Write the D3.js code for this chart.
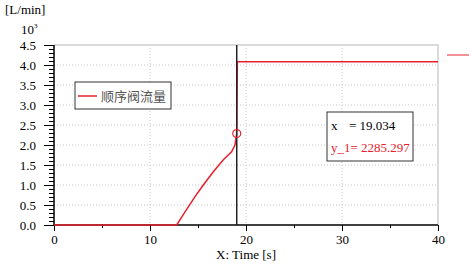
<!DOCTYPE html>
<html>
<head>
<meta charset="utf-8">
<script src="https://cdn.jsdelivr.net/npm/d3@7"></script>
<style>
  body { margin: 0; background: #fff; }
  svg text { font-family: "Liberation Serif", "DejaVu Serif", serif; }
</style>
</head>
<body>
<div id="chart"></div>
<script>
// data (x in s, y in 10^3 L/min)
var timeVals = [0, 12.78, 13.65, 14.69, 15.55, 16.6, 17.64, 18.5, 18.85, 19.03, 19.1, 40]
var flowVals = [0, 0, 0.33, 0.71, 1.0, 1.33, 1.63, 1.83, 2.0, 2.285, 4.08, 4.08]
var xTicks = [0, 10, 20, 30, 40]
var yTicks = [0, 0.5, 1, 1.5, 2, 2.5, 3, 3.5, 4, 4.5]
var seriesName = "顺序阀流量"
var cursorX = 19.034
var cursorY = 2285.297

var W = 472, H = 264
var margin = { top: 45, right: 34, bottom: 39, left: 54 },
    width = W - margin.left - margin.right,
    height = H - margin.top - margin.bottom

var red = "#e8202c"

var svg = d3.select("#chart").append("svg")
    .attr("width", W).attr("height", H)

var g = svg.append("g")
    .attr("transform", "translate(" + margin.left + "," + margin.top + ")")

var x = d3.scaleLinear().domain([0, 40]).range([0, width])
var y = d3.scaleLinear().domain([0, 4.5]).range([height, 0])

// grid (dotted)
g.append("g").selectAll("line")
    .data(xTicks.filter(d => d > 0 && d < 40))
    .enter().append("line")
    .attr("x1", d => x(d)).attr("x2", d => x(d))
    .attr("y1", 0).attr("y2", height)
    .attr("stroke", "#c8c8c8").attr("stroke-dasharray", "1,2")
g.append("g").selectAll("line")
    .data(yTicks.filter(d => d > 0 && d < 4.5))
    .enter().append("line")
    .attr("x1", 0).attr("x2", width)
    .attr("y1", d => y(d)).attr("y2", d => y(d))
    .attr("stroke", "#c8c8c8").attr("stroke-dasharray", "1,2")

// top / right frame
g.append("path")
    .attr("d", "M0,0H" + width + "V" + height)
    .attr("fill", "none").attr("stroke", "#d0d0d0").attr("stroke-width", 1.5)

// minor ticks
var yMinor = d3.range(0, 4.51, 0.1)
var xMinor = [5, 15, 25, 35]
g.append("g").call(d3.axisLeft(y).tickValues(yMinor).tickSize(5).tickFormat(""))
    .call(a => a.select(".domain").remove())
    .selectAll("line").attr("stroke", "#000")
g.append("g").attr("transform", "translate(0," + height + ")")
    .call(d3.axisBottom(x).tickValues(xMinor).tickSize(3).tickFormat(""))
    .call(a => a.select(".domain").remove())
    .selectAll("line").attr("stroke", "#000")

// major axes
var yAxis = g.append("g")
    .call(d3.axisLeft(y).tickValues(yTicks).tickSize(10).tickPadding(8).tickFormat(d3.format(".1f")))
yAxis.select(".domain").attr("stroke", "#000").attr("stroke-width", 1.5).attr("d", "M0,0V" + height)
yAxis.selectAll("text").attr("font-size", 13).attr("fill", "#000")
    .attr("font-family", "Liberation Serif")

var xAxis = g.append("g").attr("transform", "translate(0," + height + ")")
    .call(d3.axisBottom(x).tickValues(xTicks).tickSize(6).tickPadding(4))
xAxis.select(".domain").attr("stroke", "#000").attr("stroke-width", 1.5).attr("d", "M0,0H" + width)
xAxis.selectAll("text").attr("font-size", 13).attr("fill", "#000")
    .attr("font-family", "Liberation Serif")

// series
var line = d3.line().x((d, i) => x(timeVals[i])).y((d, i) => y(flowVals[i]))
g.append("path")
    .datum(flowVals)
    .attr("d", line)
    .attr("fill", "none").attr("stroke", red).attr("stroke-width", 1.5)

// cursor
g.append("line")
    .attr("x1", x(cursorX)).attr("x2", x(cursorX))
    .attr("y1", 0).attr("y2", height)
    .attr("stroke", "#222").attr("stroke-width", 1.5)
g.append("circle")
    .attr("cx", x(cursorX)).attr("cy", y(cursorY / 1000))
    .attr("r", 4)
    .attr("fill", "none").attr("stroke", red).attr("stroke-width", 1.2)

// cursor readout box
var rb = g.append("g").attr("transform", "translate(273,67)")
rb.append("rect").attr("x", 0).attr("y", 0).attr("width", 86).attr("height", 49)
    .attr("fill", "#fff").attr("stroke", "#333").attr("stroke-width", 1)
rb.append("text").attr("x", 4).attr("y", 18).attr("font-size", 13).attr("fill", "#000")
    .text("x")
rb.append("text").attr("x", 22).attr("y", 18).attr("font-size", 13).attr("fill", "#000")
    .text("= " + cursorX.toFixed(3))
rb.append("text").attr("x", 4).attr("y", 40).attr("font-size", 13).attr("fill", red)
    .text("y_1= " + cursorY.toFixed(3))

// legend
var lg = g.append("g").attr("transform", "translate(21,37)")
lg.append("rect").attr("x", 0).attr("y", 0).attr("width", 96).attr("height", 27)
    .attr("fill", "#fff").attr("stroke", "#333").attr("stroke-width", 1)
lg.append("line").attr("x1", 3).attr("x2", 22).attr("y1", 14).attr("y2", 14)
    .attr("stroke", red).attr("stroke-width", 1.5)
lg.append("text").attr("x", 26).attr("y", 19)
    .attr("font-size", 13).attr("fill", "#555")
    .style("font-family", "'Noto Sans CJK SC', sans-serif")
    .text(seriesName)

// stray legend mark on the right
svg.append("line").attr("x1", 447).attr("x2", 469).attr("y1", 55).attr("y2", 55)
    .attr("stroke", red).attr("stroke-width", 1.5).attr("opacity", 0.65)

// labels
svg.append("text").attr("x", 5).attr("y", 14).attr("font-size", 13).text("[L/min]")
svg.append("text").attr("x", 21).attr("y", 34).attr("font-size", 13).text("10")
svg.append("text").attr("x", 34).attr("y", 28).attr("font-size", 7).text("3")
svg.append("text").attr("x", margin.left + width / 2).attr("y", 259)
    .attr("text-anchor", "middle").attr("font-size", 13).text("X: Time [s]")
</script>
</body>
</html>
